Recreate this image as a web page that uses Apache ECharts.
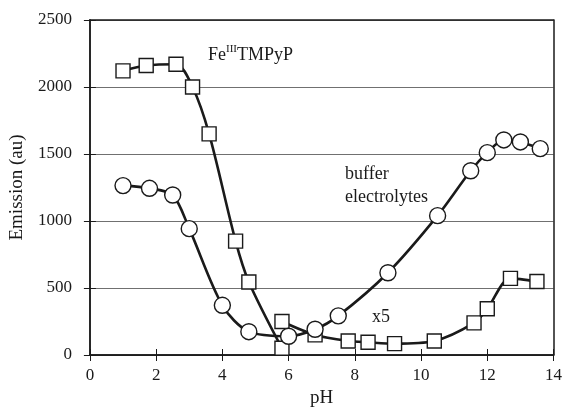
<!DOCTYPE html>
<html>
<head>
<meta charset="utf-8">
<script src="https://cdn.jsdelivr.net/npm/echarts@6/dist/echarts.min.js"></script>
<style>
  html, body { margin: 0; padding: 0; background: #fff; }
  #chart { width: 565px; height: 413px; }
</style>
</head>
<body>
<div id="chart"></div>
<script>
// Fe(III)TMPyP emission vs pH
const phFe = [1.0, 1.7, 2.6, 3.1, 3.6, 4.4, 4.8, 5.8];
const emFe = [2120, 2160, 2170, 2000, 1650, 850, 545, 50];

// high-pH branch, intensities multiplied by 5
const phX5 = [5.8, 6.8, 7.8, 8.4, 9.2, 10.4, 11.6, 12.0, 12.7, 13.5];
const emX5 = [250, 150, 105, 95, 85, 105, 240, 345, 572, 548];

// buffer electrolytes alone
const phBuf = [1.0, 1.8, 2.5, 3.0, 4.0, 4.8, 6.0, 6.8, 7.5, 9.0, 10.5, 11.5, 12.0, 12.5, 13.0, 13.6];
const emBuf = [1264, 1244, 1194, 943, 371, 174, 140, 192, 292, 614, 1040, 1375, 1510, 1605, 1590, 1540];

const xTicks = [0, 2, 4, 6, 8, 10, 12, 14];
const yTicks = [0, 500, 1000, 1500, 2000, 2500];

const FONT = 'Liberation Serif';
const INK = '#1a1a1a';

const pairs = (xs, ys) => xs.map((x, i) => [x, ys[i]]);

const xMin = xTicks[0], xMax = xTicks[xTicks.length - 1], xStep = xTicks[1] - xTicks[0];
const yMin = yTicks[0], yMax = yTicks[yTicks.length - 1], yStep = yTicks[1] - yTicks[0];

function xAxisCfg(extra) {
  return Object.assign({
    type: 'value', min: xMin, max: xMax, interval: xStep,
    position: 'bottom',
    axisLine: { show: true, onZero: false, lineStyle: { color: INK, width: 1.5 } },
    axisTick: { show: false },
    axisLabel: { show: false },
    splitLine: { show: false }
  }, extra);
}
function yAxisCfg(extra) {
  return Object.assign({
    type: 'value', min: yMin, max: yMax, interval: yStep,
    position: 'left',
    axisLine: { show: true, onZero: false, lineStyle: { color: INK, width: 1.5 } },
    axisTick: { show: false },
    axisLabel: { show: false },
    splitLine: { show: false }
  }, extra);
}

const lineStyle = { color: INK, width: 2.6 };
const markStyle = { color: '#fff', borderColor: INK, borderWidth: 1.4 };

const chart = echarts.init(document.getElementById('chart'), null, { renderer: 'canvas' });
chart.setOption({
  backgroundColor: '#fff',
  animation: false,
  grid: { left: 87, right: 11, top: 20, bottom: 58, containLabel: false },
  xAxis: [
    xAxisCfg({
      name: 'pH', nameLocation: 'middle', nameGap: 34,
      nameTextStyle: { fontFamily: FONT, fontSize: 19, color: INK },
      axisTick: { show: true, inside: false, length: 6, lineStyle: { color: INK, width: 1 } },
      axisLabel: { show: true, margin: 12, fontFamily: FONT, fontSize: 17, color: INK,
        formatter: v => String(v) }
    }),
    xAxisCfg({
      axisTick: { show: true, inside: true, length: 6, lineStyle: { color: INK, width: 1 } }
    }),
    xAxisCfg({ position: 'top' })
  ],
  yAxis: [
    yAxisCfg({
      name: 'Emission (au)', nameLocation: 'middle', nameGap: 59, nameRotate: 90,
      nameTextStyle: { fontFamily: FONT, fontSize: 19, color: INK },
      axisTick: { show: true, inside: false, length: 6, lineStyle: { color: INK, width: 1 } },
      axisLabel: { show: true, margin: 18, fontFamily: FONT, fontSize: 17, color: INK,
        formatter: v => String(v) },
      splitLine: { show: true, lineStyle: { color: '#707070', width: 1 } }
    }),
    yAxisCfg({
      axisTick: { show: true, inside: true, length: 6, lineStyle: { color: INK, width: 1 } }
    }),
    yAxisCfg({ position: 'right' })
  ],
  series: [
    {
      name: 'FeIIITMPyP', type: 'line', data: pairs(phFe, emFe),
      smooth: 0.3, symbol: 'rect', symbolSize: 14,
      lineStyle, itemStyle: markStyle, z: 3
    },
    {
      name: 'x5', type: 'line', data: pairs(phX5, emX5),
      smooth: 0.3, symbol: 'rect', symbolSize: 14,
      lineStyle, itemStyle: markStyle, z: 3
    },
    {
      name: 'buffer electrolytes', type: 'line', data: pairs(phBuf, emBuf),
      smooth: 0.3, symbol: 'circle', symbolSize: 16,
      lineStyle, itemStyle: markStyle, z: 4
    }
  ],
  graphic: [
    {
      type: 'text', left: 208, top: 44, z: 10,
      style: {
        text: '{n|Fe}{s|III}{n|TMPyP}',
        fill: INK,
        rich: {
          n: { fontFamily: FONT, fontSize: 18, lineHeight: 20, verticalAlign: 'bottom', fill: INK },
          s: { fontFamily: FONT, fontSize: 11, lineHeight: 20, verticalAlign: 'top', fill: INK }
        }
      }
    },
    {
      type: 'text', left: 345, top: 163, z: 10,
      style: { text: 'buffer\nelectrolytes', fontFamily: FONT, fontSize: 18, lineHeight: 23, fill: INK }
    },
    {
      type: 'text', left: 372, top: 308, z: 10,
      style: { text: 'x5', fontFamily: FONT, fontSize: 18, fill: INK }
    }
  ]
});
</script>
</body>
</html>
